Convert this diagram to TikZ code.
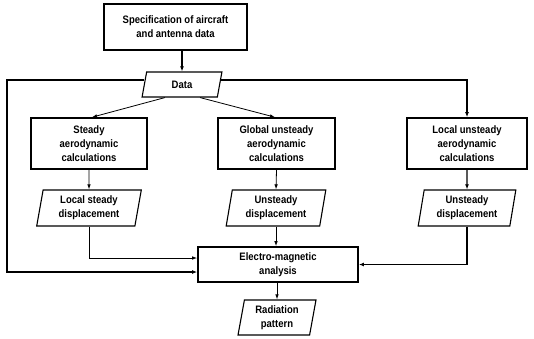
\documentclass[tikz,border=0pt]{standalone}
\usepackage{fontspec}
\setmainfont{Liberation Sans}[FakeStretch=0.88]
\usepackage{tikz}
\usetikzlibrary{positioning, shapes.geometric, arrows.meta}

\tikzset{
  block/.style={draw, line width=1.6pt, rectangle, align=center, inner sep=0pt,
    font=\fontsize{10.8}{14}\selectfont\bfseries},
  datablock/.style={draw, line width=1.1pt, trapezium, trapezium left angle=80,
    trapezium right angle=100, trapezium stretches=true, align=center, inner sep=0pt,
    font=\fontsize{10.8}{14}\selectfont\bfseries},
  thinflow/.style={line width=0.8pt, -{Latex[length=5pt,width=3.5pt]}},
  thickflow/.style={line width=1.4pt, -{Latex[length=5pt,width=3.8pt]}}
}

\begin{document}
\begin{tikzpicture}[x=1pt,y=-1pt]
\useasboundingbox (0,0) rectangle (534,338);

% boxes
\node[block, minimum width=143pt, minimum height=46pt] (spec) at (175.5,27) {Specification of aircraft\\and antenna data};
\node[datablock, minimum width=80pt, minimum height=25pt] (data) at (182,84.5) {Data};

\node[block, minimum width=116pt, minimum height=51pt] (steady) at (89,143.5) {Steady\\aerodynamic\\calculations};
\node[block, minimum width=117pt, minimum height=51pt] (global) at (276.5,143.5) {Global unsteady\\aerodynamic\\calculations};
\node[block, minimum width=120pt, minimum height=51pt] (local) at (467,143.5) {Local unsteady\\aerodynamic\\calculations};

\node[datablock, minimum width=105pt, minimum height=36pt] (lsd) at (89,208) {Local steady\\displacement};
\node[datablock, minimum width=100pt, minimum height=36pt] (gud) at (276,208) {Unsteady\\displacement};
\node[datablock, minimum width=98pt, minimum height=36pt] (lud) at (467,208) {Unsteady\\displacement};

\node[block, minimum width=160pt, minimum height=35pt] (em) at (278,264.5) {Electro-magnetic\\analysis};
\node[datablock, minimum width=78pt, minimum height=35pt] (rad) at (277,317.5) {Radiation\\pattern};

\coordinate (lft) at (7,80);

% connectors
\draw[thickflow] (spec.south -| data.north) -- (data.north);
\draw[thinflow] ([xshift=-17pt]data.south) -- ([xshift=3pt]steady.north);
\draw[thinflow] ([xshift=18pt]data.south) -- ([xshift=-1.5pt]global.north);
\draw[thickflow] (data.east |- lft) -| (local.north);
\draw[thickflow] (data.west |- lft) -- (lft) |- ([yshift=-7.5pt]em.west);

\draw[thinflow] (steady.south) -- (lsd.north);
\draw[thinflow] (global.south) -- (gud.north);
\draw[thickflow] (local.south) -- (lud.north);

\draw[thinflow] (lsd.south) |- ([yshift=6.5pt]em.west);
\draw[thinflow] (gud.south) -- (gud.south |- em.north);
\draw[thickflow] (lud.south) |- (em.east);
\draw[thinflow] (em.south -| rad.north) -- (rad.north);
\end{tikzpicture}
\end{document}
